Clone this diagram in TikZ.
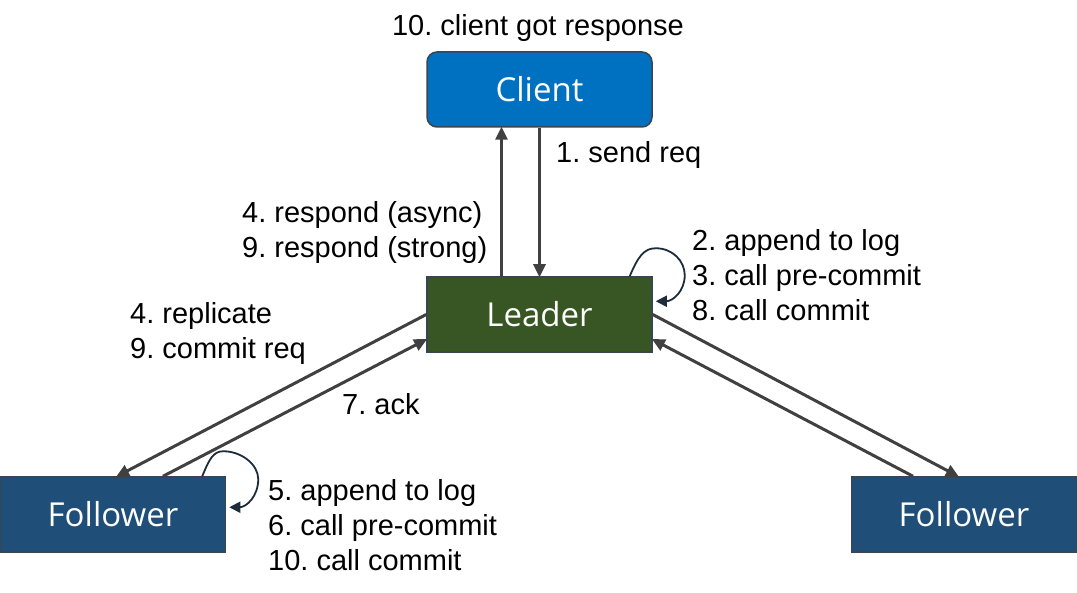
\documentclass[tikz,border=0pt]{standalone}
\usepackage{fontspec}
\setmainfont{Liberation Sans}
\newfontfamily\boxfont{Open Sans}
\usetikzlibrary{arrows.meta,calc}
\definecolor{clientblue}{HTML}{0070C0}
\definecolor{leadergreen}{HTML}{375623}
\definecolor{followerblue}{HTML}{1F4E79}
\definecolor{edgegray}{HTML}{404040}
\definecolor{loopnavy}{HTML}{1E2B3A}
\definecolor{boxborder}{HTML}{3A4552}
\frenchspacing
\begin{document}
\begin{tikzpicture}[x=1pt,y=-1pt,
  box/.style={draw=boxborder, line width=1.5pt, minimum width=225pt, minimum height=75pt,
    inner sep=0pt, text=white, font=\boxfont\fontsize{33}{38}\selectfont},
  flow/.style={draw=edgegray, line width=3pt, -{Triangle[length=13pt,width=12pt]}, shorten >=-1pt},
  selfloop/.style={draw=loopnavy, line width=1.8pt, -{Triangle[length=11pt,width=11pt]}},
  lbl/.style={anchor=west, inner sep=0pt, font=\fontsize{29}{35}\selectfont, align=left}]
\useasboundingbox (0,0) rectangle (1077,593);

% boxes
\node[box, fill=clientblue, rounded corners=10pt] (client) at (539.5,89.5) {Client};
\node[box, fill=leadergreen] (leader) at (539.5,314.5) {Leader};
\node[box, fill=followerblue] (fleft) at (113,514.5) {Follower};
\node[box, fill=followerblue] (fright) at (964,514.5) {Follower};

% client <-> leader
\draw[flow] ([xshift=-38pt]leader.north) -- ([xshift=-38pt]client.south);
\draw[flow] ([xshift=0pt]client.south) -- ([xshift=0pt]leader.north);

% leader <-> left follower
\draw[flow] (leader.west) -- ([xshift=4pt]fleft.north);
\draw[flow] ([xshift=50pt]fleft.north) -- ([yshift=-25pt]leader.west);

% leader <-> right follower
\draw[flow] (leader.east) -- ([xshift=-6pt]fright.north);
\draw[flow] ([xshift=-51pt]fright.north) -- ([yshift=-25pt]leader.east);

% self loops
\coordinate (LN) at (leader.north east);
\draw[selfloop] ($(LN)+(-23,0)$)
  .. controls ($(LN)+(-15,-19)$) and ($(LN)+(-9,-28)$) .. ($(LN)+(3,-28)$)
  .. controls ($(LN)+(20,-28)$) and ($(LN)+(32,-15)$) .. ($(LN)+(32,-1)$)
  .. controls ($(LN)+(32,15)$) and ($(LN)+(20,25)$) .. ($(LN)+(3,25)$);
\coordinate (FN) at (fleft.north east);
\draw[selfloop] ($(FN)+(-24,0)$)
  .. controls ($(FN)+(-17,-17)$) and ($(FN)+(-13,-25)$) .. ($(FN)+(-3,-25)$)
  .. controls ($(FN)+(15,-25)$) and ($(FN)+(32,-12)$) .. ($(FN)+(32,3)$)
  .. controls ($(FN)+(32,20)$) and ($(FN)+(20,31)$) .. ($(FN)+(3,31)$);

% labels
\node[lbl, anchor=center] (t10) at (538,28) {10. client got response};
\node[lbl] (t1) at (556,155) {1. send req};
\node[lbl] (t4) at (242,232.5) {4. respond (async)\\9. respond (strong)};
\node[lbl] (t2) at (692,275) {2. append to log\\3. call pre-commit\\8. call commit};
\node[lbl] (t4r) at (130,333.5) {4. replicate\\9. commit req};
\node[lbl] (t7) at (342,404) {7. ack};
\node[lbl] (t5) at (268,525.5) {5. append to log\\6. call pre-commit\\10. call commit};
\end{tikzpicture}
\end{document}
